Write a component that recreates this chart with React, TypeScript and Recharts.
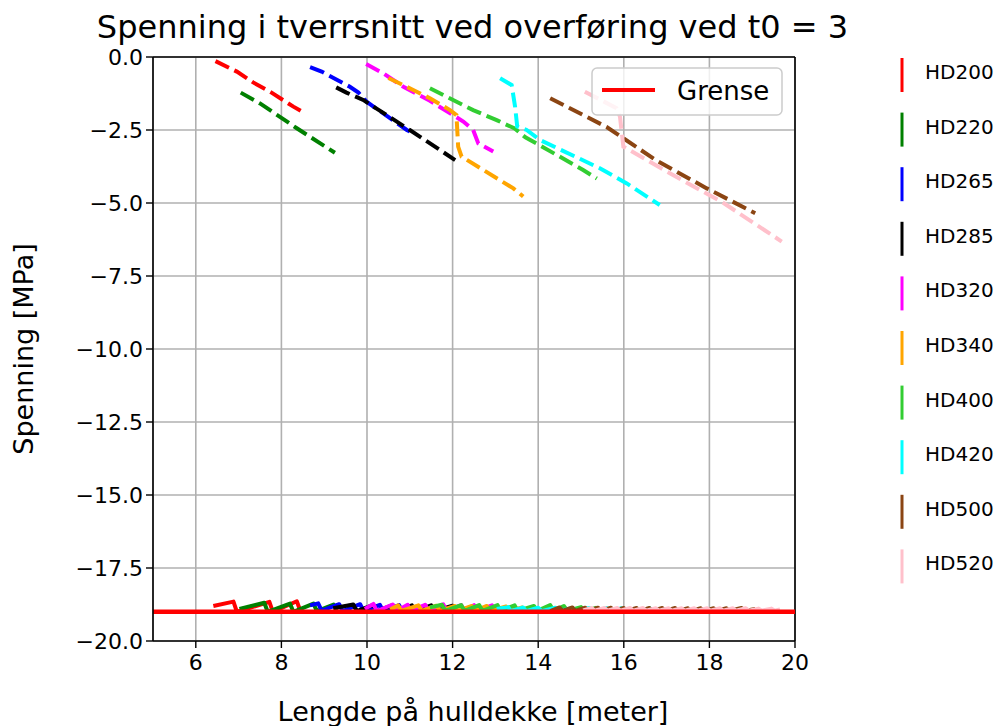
import React from "react";
import {
  LineChart,
  Line,
  XAxis,
  YAxis,
  CartesianGrid,
  ReferenceLine,
} from "recharts";

// [lengde, spenning]
const hd200Top: [number, number][] = [[6.46, -0.14], [6.96, -0.5], [7.34, -0.87], [7.77, -1.22], [8.28, -1.7], [8.45, -1.84]];
const hd220Top: [number, number][] = [[7.05, -1.22], [7.5, -1.59], [8.36, -2.44], [9.25, -3.28]];
const hd265Top: [number, number][] = [[8.67, -0.35], [8.94, -0.5], [9.6, -1.02], [9.8, -1.22], [9.99, -1.53], [10.93, -2.5], [11.0, -2.55]];
const hd285Top: [number, number][] = [[9.28, -1.04], [9.52, -1.22], [9.91, -1.47], [11.0, -2.5], [12.06, -3.53]];
const hd320Top: [number, number][] = [[9.98, -0.24], [10.38, -0.56], [10.85, -1.02], [11.47, -1.5], [12.25, -2.21], [12.48, -2.5], [12.6, -2.96], [12.95, -3.24]];
const hd340Top: [number, number][] = [[10.5, -0.72], [11.08, -1.13], [11.47, -1.41], [11.94, -1.82], [12.09, -1.99], [12.13, -3.07], [12.21, -3.41], [12.72, -3.87], [13.42, -4.5], [13.65, -4.78]];
const hd400Top: [number, number][] = [[11.47, -1.07], [12.48, -1.82], [13.03, -2.16], [13.45, -2.45], [13.7, -2.75], [14.02, -3.01], [15.05, -3.87], [15.37, -4.16]];
const hd420Top: [number, number][] = [[13.11, -0.73], [13.38, -0.96], [13.46, -1.7], [13.51, -2.38], [13.73, -2.5], [14.04, -2.84], [15.44, -3.81], [16.07, -4.33], [16.84, -5.07]];
const hd500Top: [number, number][] = [[14.28, -1.41], [15.6, -2.4], [16.77, -3.55], [17.94, -4.5], [19.07, -5.35]];
const hd520Top: [number, number][] = [[15.09, -1.19], [15.83, -1.75], [15.91, -2.04], [15.99, -3.07], [17.16, -4.05], [18.33, -5.0], [19.69, -6.32]];

const hd200Bot: [number, number][] = [[6.41, -18.8], [6.88, -18.65], [6.96, -19.0], [7.72, -18.66], [7.8, -19.0], [8.36, -18.64], [8.45, -19.0]];
const hd220Bot: [number, number][] = [[7.02, -18.9], [7.6, -18.69], [7.68, -19.0], [8.2, -18.72], [8.28, -19.0], [8.75, -18.72], [8.83, -18.98], [9.22, -18.75], [9.3, -18.95]];
const hd265Bot: [number, number][] = [[8.67, -18.78], [8.86, -18.71], [8.94, -18.96], [9.35, -18.74], [9.43, -18.98], [9.84, -18.74], [9.92, -18.98], [10.3, -18.76], [10.38, -18.98], [10.75, -18.77], [10.82, -18.97], [11.05, -18.8]];
const hd285Bot: [number, number][] = [[9.21, -18.88], [9.68, -18.75], [9.76, -18.98], [10.15, -18.76], [10.23, -18.98], [10.6, -18.77], [10.68, -18.98], [11.05, -18.78], [11.12, -18.98], [11.5, -18.78], [11.58, -18.98], [12.0, -18.79], [12.06, -18.95]];
const hd320Bot: [number, number][] = [[9.95, -18.9], [10.15, -18.73], [10.23, -18.98], [10.6, -18.75], [10.68, -18.98], [10.95, -18.76], [11.02, -18.97], [11.36, -18.76], [11.44, -18.97], [11.78, -18.74], [11.86, -18.97], [12.2, -18.77], [12.28, -18.97], [12.5, -18.77], [12.58, -18.97], [12.92, -18.78], [12.97, -18.9]];
const hd340Bot: [number, number][] = [[10.54, -18.92], [10.73, -18.78], [10.8, -18.97], [11.2, -18.78], [11.28, -18.97], [11.62, -18.79], [11.7, -18.97], [12.05, -18.8], [12.12, -18.97], [12.45, -18.8], [12.52, -18.97], [12.8, -18.8], [12.88, -18.97], [13.25, -18.82], [13.32, -18.97], [13.65, -18.84]];
const hd400Bot: [number, number][] = [[11.47, -18.85], [11.75, -18.76], [11.83, -18.97], [12.2, -18.77], [12.28, -18.97], [12.62, -18.77], [12.7, -18.97], [13.05, -18.77], [13.12, -18.97], [13.45, -18.78], [13.52, -18.97], [13.9, -18.8], [13.98, -18.97], [14.28, -18.77], [14.36, -18.97], [14.6, -18.8], [14.68, -18.97], [15.0, -18.84], [15.08, -18.97], [15.37, -18.86]];
const hd420Bot: [number, number][] = [[13.03, -18.9], [13.3, -18.84], [13.36, -18.98], [13.65, -18.85], [13.72, -18.98], [14.0, -18.86], [14.08, -18.98], [14.4, -18.86], [14.48, -18.98], [14.8, -18.87], [14.88, -18.98], [15.2, -18.87], [15.28, -18.98], [15.6, -18.88], [15.68, -18.98], [15.95, -18.88], [16.02, -18.98], [16.3, -18.89], [16.38, -18.98], [16.6, -18.88], [16.7, -18.97]];
const hd500Bot: [number, number][] = [[14.28, -18.98], [14.5, -18.85], [14.56, -18.97], [14.8, -18.85], [14.86, -18.97], [15.1, -18.86], [15.16, -18.97], [15.4, -18.86], [15.46, -18.97], [15.7, -18.86], [15.76, -18.97], [16.0, -18.87], [16.06, -18.97], [16.3, -18.87], [16.36, -18.97], [16.6, -18.87], [16.66, -18.97], [16.9, -18.87], [16.96, -18.97], [17.2, -18.87], [17.26, -18.97], [17.5, -18.88], [17.56, -18.97], [17.8, -18.88], [17.86, -18.97], [18.1, -18.88], [18.16, -18.97], [18.4, -18.88], [18.46, -18.97], [18.75, -18.87], [18.82, -18.97], [19.07, -18.9]];
const hd520Bot: [number, number][] = [[15.05, -18.95], [15.25, -18.87], [15.32, -18.96], [15.55, -18.87], [15.62, -18.96], [15.85, -18.87], [15.92, -18.96], [16.15, -18.87], [16.22, -18.96], [16.45, -18.87], [16.52, -18.96], [16.75, -18.88], [16.82, -18.96], [17.05, -18.88], [17.12, -18.96], [17.35, -18.88], [17.42, -18.96], [17.65, -18.88], [17.72, -18.96], [17.95, -18.88], [18.02, -18.96], [18.25, -18.88], [18.32, -18.96], [18.55, -18.88], [18.62, -18.96], [18.85, -18.88], [18.92, -18.96], [19.15, -18.89], [19.22, -18.96], [19.45, -18.89], [19.52, -18.96], [19.65, -18.92]];

const grense: [number, number][] = [[5, -19], [20, -19]];

const seriesNames = ["HD200", "HD220", "HD265", "HD285", "HD320", "HD340", "HD400", "HD420", "HD500", "HD520"];
const seriesColors = ["#ff0000", "#008000", "#0000ff", "#000000", "#ff00ff", "#ffa500", "#32cd32", "#00ffff", "#8b4513", "#ffc0cb"];
const topLines = [hd200Top, hd220Top, hd265Top, hd285Top, hd320Top, hd340Top, hd400Top, hd420Top, hd500Top, hd520Top];
const bottomLines = [hd200Bot, hd220Bot, hd265Bot, hd285Bot, hd320Bot, hd340Bot, hd400Bot, hd420Bot, hd500Bot, hd520Bot];

const xTicks = [6, 8, 10, 12, 14, 16, 18, 20];
const yTicks = [-20, -17.5, -15, -12.5, -10, -7.5, -5, -2.5, 0];

const FONT = "'DejaVu Sans', sans-serif";

const toPoints = (arr: [number, number][]) => arr.map(([x, y]) => ({ x, y }));
const fmtY = (v: number) => (v < 0 ? "\u2212" : "") + Math.abs(v).toFixed(1);

export default function App() {
  return (
    <div style={{ position: "absolute", left: 0, top: 0, width: 998, height: 726, background: "#fff" }}>
      <LineChart width={998} height={726} margin={{ top: 57, right: 203, bottom: 35, left: 83 }}>
        <CartesianGrid stroke="#b0b0b0" strokeWidth={1.6} />
        <XAxis
          dataKey="x"
          type="number"
          domain={[5, 20]}
          ticks={xTicks}
          interval={0}
          allowDataOverflow
          height={50}
          tickSize={7}
          tickMargin={6}
          axisLine={{ stroke: "#000", strokeWidth: 1.6 }}
          tickLine={{ stroke: "#000", strokeWidth: 1.4 }}
          tick={{ fill: "#000", fontSize: 22, fontFamily: FONT }}
        />
        <YAxis
          dataKey="y"
          type="number"
          domain={[-20, 0]}
          ticks={yTicks}
          interval={0}
          allowDataOverflow
          width={70}
          tickSize={7}
          tickMargin={3}
          tickFormatter={fmtY}
          axisLine={{ stroke: "#000", strokeWidth: 1.6 }}
          tickLine={{ stroke: "#000", strokeWidth: 1.4 }}
          tick={{ fill: "#000", fontSize: 22, fontFamily: FONT }}
        />
        <ReferenceLine y={0} stroke="#000" strokeWidth={1.6} />
        <ReferenceLine x={20} stroke="#000" strokeWidth={1.6} />
        {seriesNames.map((name, i) => (
          <React.Fragment key={name}>
            <Line
              data={toPoints(topLines[i])}
              dataKey="y"
              stroke={seriesColors[i]}
              strokeWidth={4}
              strokeDasharray="15 6"
              dot={false}
              activeDot={false}
              isAnimationActive={false}
            />
            <Line
              data={toPoints(bottomLines[i])}
              dataKey="y"
              stroke={seriesColors[i]}
              strokeWidth={4}
              strokeLinejoin="round"
              dot={false}
              activeDot={false}
              isAnimationActive={false}
            />
          </React.Fragment>
        ))}
        <Line
          data={toPoints(grense)}
          dataKey="y"
          stroke="#ff0000"
          strokeWidth={4.5}
          dot={false}
          activeDot={false}
          isAnimationActive={false}
        />
      </LineChart>

      <svg
        width={998}
        height={726}
        style={{ position: "absolute", left: 0, top: 0, pointerEvents: "none" }}
        fontFamily={FONT}
      >
        <text x={472.5} y={38} textAnchor="middle" fontSize={32} fill="#000">
          Spenning i tverrsnitt ved overføring ved t0 = 3
        </text>
        <text x={473} y={721} textAnchor="middle" fontSize={27} fill="#000">
          Lengde på hulldekke [meter]
        </text>
        <text transform="translate(33,349) rotate(-90)" textAnchor="middle" fontSize={27} fill="#000">
          Spenning [MPa]
        </text>

        {/* legend inside the axes */}
        <rect x={592} y={68} width={190} height={47} rx={5} fill="#fff" fillOpacity={0.8} stroke="#cccccc" strokeWidth={1.5} />
        <line x1={602} y1={90} x2={655} y2={90} stroke="#ff0000" strokeWidth={4} />
        <text x={677} y={99.5} fontSize={26} fill="#000">Grense</text>

        {/* series legend to the right */}
        {seriesNames.map((name, i) => {
          const cy = 72 + i * 54.6;
          return (
            <g key={name}>
              <line x1={902} y1={cy - 14} x2={902} y2={cy + 20} stroke={seriesColors[i]} strokeWidth={3} />
              <text x={925} y={cy + 7} fontSize={20} fill="#000">{name}</text>
            </g>
          );
        })}
      </svg>
    </div>
  );
}
